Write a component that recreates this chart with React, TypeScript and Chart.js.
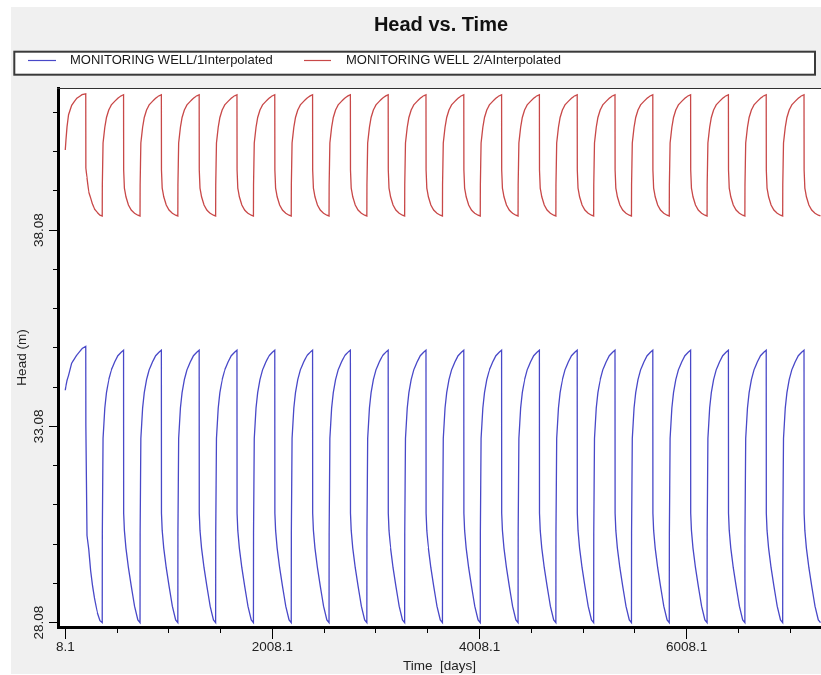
import React, { useEffect, useRef } from 'react';
import { Chart, registerables } from 'chart.js';

Chart.register(...registerables);

// ---------- text ----------
const chartTitle = 'Head vs. Time';
const seriesNames = ['MONITORING WELL/1Interpolated', 'MONITORING WELL 2/AInterpolated'];
const xTitle = 'Time  [days]';
const yTitle = 'Head (m)';

// ---------- data ----------
// first, partial year of the record (days from start of simulation)
const firstDays = [8.1, 15, 25, 40, 70, 120, 170, 206, 207, 218, 235, 253, 270, 290, 317, 343, 365];
const firstBlue = [34.0, 34.12, 34.25, 34.38, 34.69, 34.9, 35.06, 35.12, 33.1, 30.3, 29.95, 29.41, 29.05, 28.71, 28.34, 28.13, 28.08];
const firstRed = [40.12, 40.38, 40.71, 41.02, 41.26, 41.44, 41.53, 41.55, 39.66, 39.41, 39.05, 38.9, 38.75, 38.62, 38.53, 38.46, 38.44];

// start day of each following yearly cycle
const cycleStartDays = [365, 730, 1095, 1460, 1825, 2190, 2555, 2920, 3285, 3650, 4015, 4380, 4745, 5110, 5475, 5840, 6205, 6570, 6935];
// day offsets inside one yearly cycle and the heads read at them
const cycleOffsets = [1, 8, 25, 41, 63, 88, 120, 151, 183, 206, 207, 214, 229, 253, 280, 312, 344, 365];
const blueCycle = [30.35, 32.77, 33.55, 33.94, 34.27, 34.52, 34.72, 34.88, 34.97, 35.02, 30.87, 30.43, 29.98, 29.48, 29.02, 28.5, 28.15, 28.08];
const redCycle = [39.23, 40.3, 40.7, 40.95, 41.14, 41.27, 41.36, 41.44, 41.5, 41.53, 39.61, 39.15, 38.93, 38.72, 38.59, 38.51, 38.46, 38.44];

// axis ticks
const xMajorTicks = [8.1, 2008.1, 4008.1, 6008.1];
const xMinorTicks = [508.1, 1008.1, 1508.1, 2508.1, 3008.1, 3508.1, 4508.1, 5008.1, 5508.1, 6508.1, 7008.1];
const yMajorTicks = [28.08, 33.08, 38.08];
const yMinorTicks = [29.08, 30.08, 31.08, 32.08, 34.08, 35.08, 36.08, 37.08, 39.08, 40.08, 41.08];

const xMin = -62;
const xMax = 7305;
const yMin = 27.97;
const yMax = 41.7;

// ---------- styles ----------
const BLUE = '#4848c8';
const RED = '#c84848';
const FONT = '"Liberation Sans", Arial, Helvetica, sans-serif';
const TEXT = '#222222';

function buildSeries(first: number[], cycle: number[]) {
  const pts: { x: number; y: number }[] = firstDays.map((d, i) => ({ x: d, y: first[i] }));
  cycleStartDays.forEach((s) => {
    cycleOffsets.forEach((o, i) => pts.push({ x: s + o, y: cycle[i] }));
  });
  return pts;
}

const framePlugin = {
  id: 'frame',
  beforeDraw(chart: any) {
    const { ctx, chartArea } = chart;
    ctx.save();
    ctx.fillStyle = '#ffffff';
    ctx.fillRect(0, 0, chart.width, chart.height);
    ctx.fillStyle = '#f0f0f0';
    ctx.fillRect(11, 7, chart.width - 11, chart.height - 8);
    ctx.fillStyle = '#ffffff';
    ctx.fillRect(chartArea.left, chartArea.top, chartArea.right - chartArea.left, chartArea.bottom - chartArea.top);

    // title
    ctx.fillStyle = '#111111';
    ctx.font = `bold 20px ${FONT}`;
    ctx.textAlign = 'center';
    ctx.textBaseline = 'middle';
    ctx.fillText(chartTitle, 441, 25);

    // legend box
    ctx.fillStyle = '#ffffff';
    ctx.fillRect(14.3, 51.7, 800.7, 23);
    ctx.strokeStyle = '#3a3a3a';
    ctx.lineWidth = 2;
    ctx.strokeRect(14.3, 51.7, 800.7, 23);

    const items = [
      { x0: 28, x1: 56, tx: 70, color: BLUE, text: seriesNames[0] },
      { x0: 304, x1: 331, tx: 346, color: RED, text: seriesNames[1] },
    ];
    ctx.font = `13px ${FONT}`;
    ctx.textAlign = 'left';
    items.forEach((it) => {
      ctx.strokeStyle = it.color;
      ctx.lineWidth = 1.2;
      ctx.beginPath();
      ctx.moveTo(it.x0, 60.5);
      ctx.lineTo(it.x1, 60.5);
      ctx.stroke();
      ctx.fillStyle = '#1a1a1a';
      ctx.fillText(it.text, it.tx, 60.5);
    });
    ctx.restore();
  },
  afterDraw(chart: any) {
    const { ctx, chartArea } = chart;
    ctx.save();
    ctx.strokeStyle = '#303030';
    ctx.lineWidth = 1;
    ctx.beginPath();
    ctx.moveTo(chartArea.left - 1, chartArea.top + 0.5);
    ctx.lineTo(chartArea.right, chartArea.top + 0.5);
    ctx.stroke();
    ctx.restore();
  },
};

export default function App() {
  const ref = useRef<HTMLCanvasElement | null>(null);

  useEffect(() => {
    if (!ref.current) return;
    const allX = [...xMajorTicks, ...xMinorTicks].sort((a, b) => a - b);
    const allY = [...yMajorTicks, ...yMinorTicks].sort((a, b) => a - b);
    const chart = new Chart(ref.current, {
      type: 'line',
      data: {
        datasets: [
          {
            label: seriesNames[0],
            data: buildSeries(firstBlue, blueCycle),
            borderColor: BLUE,
            backgroundColor: BLUE,
            borderWidth: 1.3,
            pointRadius: 0,
            tension: 0.000001,
            fill: false,
          },
          {
            label: seriesNames[1],
            data: buildSeries(firstRed, redCycle),
            borderColor: RED,
            backgroundColor: RED,
            borderWidth: 1.3,
            pointRadius: 0,
            tension: 0.000001,
            fill: false,
          },
        ],
      },
      options: {
        responsive: false,
        animation: false,
        devicePixelRatio: 1,
        layout: { padding: { left: 10, top: 88, right: 0, bottom: 0 } },
        plugins: {
          legend: { display: false },
          title: { display: false },
          tooltip: { enabled: false },
        },
        scales: {
          x: {
            type: 'linear',
            position: 'bottom',
            min: xMin,
            max: xMax,
            afterBuildTicks: (s: any) => {
              s.ticks = allX.map((v) => ({ value: v }));
            },
            afterFit: (s: any) => {
              s.height = 48;
            },
            ticks: {
              autoSkip: false,
              minRotation: 0,
              maxRotation: 0,
              padding: 0.5,
              color: TEXT,
              font: { family: FONT, size: 13.5 },
              callback: (v: any) => (xMajorTicks.includes(v) ? String(v) : ''),
            },
            grid: {
              drawOnChartArea: false,
              drawTicks: true,
              tickLength: 12,
              tickColor: '#000000',
              tickWidth: 1,
              tickBorderDash: (c: any) => (c.tick && xMajorTicks.includes(c.tick.value) ? [] : [4, 40]),
            },
            border: { display: true, color: '#000000', width: 3 },
            title: {
              display: true,
              text: xTitle,
              color: TEXT,
              font: { family: FONT, size: 13.5 },
              padding: { top: 0, bottom: 0.9 },
            },
          },
          y: {
            type: 'linear',
            position: 'left',
            min: yMin,
            max: yMax,
            afterBuildTicks: (s: any) => {
              s.ticks = allY.map((v) => ({ value: v }));
            },
            afterFit: (s: any) => {
              s.width = 48;
            },
            ticks: {
              autoSkip: false,
              minRotation: 90,
              maxRotation: 90,
              crossAlign: 'center',
              padding: -7.4,
              color: TEXT,
              font: { family: FONT, size: 13.5 },
              callback: (v: any) => (yMajorTicks.includes(v) ? Number(v).toFixed(2) : ''),
            },
            grid: {
              drawOnChartArea: false,
              drawTicks: true,
              tickLength: 9,
              tickColor: '#000000',
              tickWidth: 1,
              tickBorderDash: (c: any) => (c.tick && yMajorTicks.includes(c.tick.value) ? [] : [4, 40]),
              tickBorderDashOffset: (c: any) => (c.tick && yMajorTicks.includes(c.tick.value) ? 0 : 40),
            },
            border: { display: true, color: '#000000', width: 3 },
            title: {
              display: true,
              text: yTitle,
              color: TEXT,
              font: { family: FONT, size: 13.5 },
              padding: { top: 4.4, bottom: 0 },
            },
          },
        },
      } as any,
      plugins: [framePlugin],
    });
    return () => chart.destroy();
  }, []);

  return (
    <div style={{ position: 'absolute', left: 0, top: 0, width: 821, height: 675 }}>
      <canvas ref={ref} width={821} height={675} style={{ display: 'block' }} />
    </div>
  );
}
